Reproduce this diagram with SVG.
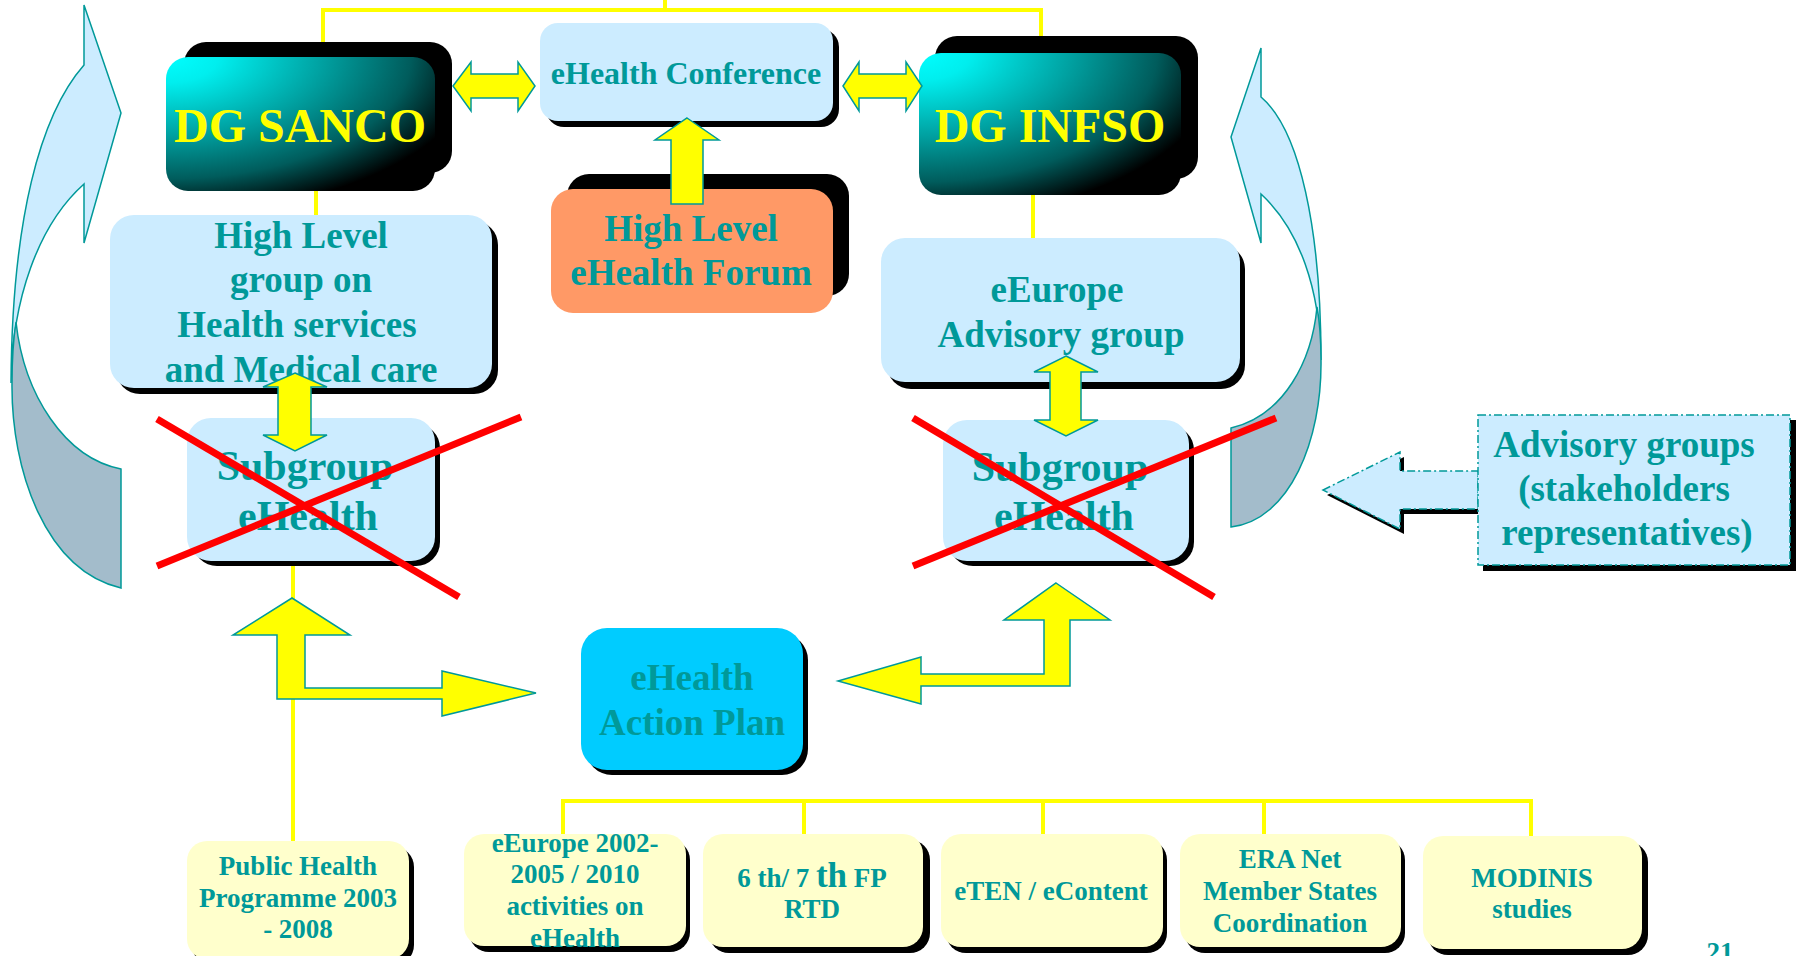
<svg xmlns="http://www.w3.org/2000/svg" width="1796" height="956" viewBox="0 0 1796 956">
<defs>
<radialGradient id="dg" cx="0" cy="0" r="1.3" fx="0" fy="0">
<stop offset="0" stop-color="#00FFFF"/>
<stop offset="0.15" stop-color="#00EEEE"/>
<stop offset="0.45" stop-color="#00A0A0"/>
<stop offset="0.7" stop-color="#005C5C"/>
<stop offset="0.9" stop-color="#000000"/>
</radialGradient>
<style>
.t{font-family:"Liberation Serif","Times New Roman",serif;font-weight:bold;fill:#009999;text-anchor:middle}
.dgt{font-family:"Liberation Serif","Times New Roman",serif;font-weight:bold;fill:#FFFF00;text-anchor:middle;font-size:48px}
.f37{font-size:37px}
.f27{font-size:27px}
.sh{fill:#000}
.lb{fill:#CCECFF}
.ly{fill:#FFFFCC}
.ya{fill:#FFFF00;stroke:#009999;stroke-width:1.5}
.yl{fill:none;stroke:#FFFF00;stroke-width:4}
.rx{stroke:#FF0000;stroke-width:7;fill:none}
.cl{fill:#CCECFF;stroke:#009999;stroke-width:1.5}
.cd{fill:#A3BCCB;stroke:#009999;stroke-width:1.5}
.dash{stroke:#009999;stroke-width:1.5;stroke-dasharray:8 3 2 3}
</style>
</defs>
<rect width="1796" height="956" fill="#FFFFFF"/>

<g id="connectors">
<polyline class="yl" points="323,48 323,10 1041,10 1041,40"/>
<line class="yl" x1="665" y1="10" x2="665" y2="0"/>
<line class="yl" x1="316" y1="185" x2="316" y2="218"/>
<line class="yl" x1="1033" y1="190" x2="1033" y2="240"/>
<line class="yl" x1="293" y1="560" x2="293" y2="843"/>
<polyline class="yl" points="563,836 563,801 1531,801 1531,838"/>
<line class="yl" x1="804" y1="801" x2="804" y2="836"/>
<line class="yl" x1="1043" y1="801" x2="1043" y2="836"/>
<line class="yl" x1="1264" y1="801" x2="1264" y2="836"/>
</g>

<g id="curved-left">
<path class="cl" d="M84,65 C40,115 12,220 11,383 C12,300 38,225 84,184 L84,243 L121,113 L84,5 Z"/>
<path class="cd" d="M16,322 C24,395 65,458 121,469 L121,588 C45,570 11,470 12,383 C12,360 14,335 16,322 Z"/>
</g>
<g id="curved-right">
<path class="cl" d="M1261,97 C1300,130 1321,230 1321,360 C1320,290 1300,230 1261,194 L1261,243 L1231,137 L1261,48 Z"/>
<path class="cd" d="M1317,307 C1312,360 1285,415 1231,428 L1231,527 C1290,520 1322,440 1321,360 C1321,335 1319,318 1317,307 Z"/>
</g>

<g id="dg-sanco">
<rect class="sh" x="184" y="42" width="268" height="131" rx="22"/>
<rect x="166" y="57" width="269" height="134" rx="22" fill="url(#dg)"/>
<text class="dgt" x="300" y="142">DG SANCO</text>
</g>

<g id="ehealth-conference">
<rect class="sh" x="546" y="29" width="293" height="98" rx="18"/>
<rect class="lb" x="540" y="23" width="293" height="98" rx="18"/>
<text class="t" x="686" y="84" font-size="32">eHealth Conference</text>
</g>

<g id="dg-infso">
<rect class="sh" x="935" y="36" width="263" height="143" rx="22"/>
<rect x="919" y="53" width="262" height="142" rx="22" fill="url(#dg)"/>
<text class="dgt" x="1050" y="142">DG INFSO</text>
</g>

<g id="high-level-group">
<rect class="sh" x="116" y="221" width="382" height="173" rx="24"/>
<rect class="lb" x="110" y="215" width="382" height="173" rx="24"/>
<text class="t f37" x="301" y="248">High Level</text>
<text class="t f37" x="301" y="292">group on</text>
<text class="t f37" x="297" y="337">Health services</text>
<text class="t f37" x="301" y="382">and Medical care</text>
</g>

<g id="ehealth-forum">
<rect class="sh" x="567" y="174" width="282" height="122" rx="22"/>
<rect x="551" y="189" width="282" height="124" rx="22" fill="#FF9966"/>
<text class="t f37" x="691" y="241">High Level</text>
<text class="t f37" x="691" y="285">eHealth Forum</text>
</g>

<g id="eeurope-advisory">
<rect class="sh" x="887" y="245" width="358" height="144" rx="24"/>
<rect class="lb" x="881" y="238" width="359" height="144" rx="24"/>
<text class="t f37" x="1057" y="302">eEurope</text>
<text class="t f37" x="1061" y="347">Advisory group</text>
</g>

<g id="subgroup-left">
<rect class="sh" x="193" y="424" width="247" height="142" rx="24"/>
<rect class="lb" x="187" y="418" width="248" height="143" rx="24"/>
<text class="t" x="305" y="480" font-size="42">Subgroup</text>
<text class="t" x="308" y="530" font-size="42">eHealth</text>
</g>

<g id="subgroup-right">
<rect class="sh" x="949" y="426" width="245" height="140" rx="24"/>
<rect class="lb" x="943" y="420" width="246" height="141" rx="24"/>
<text class="t" x="1060" y="481" font-size="42">Subgroup</text>
<text class="t" x="1064" y="530" font-size="42">eHealth</text>
</g>

<g id="action-plan">
<rect class="sh" x="586" y="634" width="222" height="141" rx="26"/>
<rect x="581" y="628" width="222" height="142" rx="26" fill="#00CCFF"/>
<text class="t f37" x="692" y="690">eHealth</text>
<text class="t f37" x="692" y="735">Action Plan</text>
</g>

<g id="advisory-groups">
<polygon class="sh" points="1327,495 1404,457 1404,476 1482,476 1482,514 1404,514 1404,534"/>
<polygon class="lb dash" points="1323,490 1400,452 1400,471 1478,471 1478,509 1400,509 1400,529"/>
<rect class="sh" x="1483" y="420" width="313" height="151"/>
<rect class="lb dash" x="1478" y="415" width="312" height="150"/>
<text class="t f37" x="1624" y="457">Advisory groups</text>
<text class="t f37" x="1624" y="501">(stakeholders</text>
<text class="t f37" x="1627" y="545">representatives)</text>
</g>

<g id="public-health">
<rect class="sh" x="192" y="847" width="222" height="118" rx="20"/>
<rect class="ly" x="187" y="841" width="222" height="118" rx="20"/>
<text class="t f27" x="298" y="875">Public Health</text>
<text class="t f27" x="298" y="907">Programme 2003</text>
<text class="t f27" x="298" y="938">- 2008</text>
</g>

<g id="eeurope-2002">
<rect class="sh" x="469" y="840" width="221" height="112" rx="20"/>
<rect class="ly" x="464" y="834" width="222" height="112" rx="20"/>
<text class="t f27" x="575" y="852">eEurope 2002-</text>
<text class="t f27" x="575" y="883">2005 / 2010</text>
<text class="t f27" x="575" y="915">activities on</text>
<text class="t f27" x="575" y="947">eHealth</text>
</g>

<g id="fp-rtd">
<rect class="sh" x="709" y="840" width="221" height="113" rx="20"/>
<rect class="ly" x="703" y="834" width="220" height="113" rx="20"/>
<text class="t f27" x="812" y="887">6 th/ 7 <tspan font-size="35">th</tspan> FP</text>
<text class="t f27" x="812" y="918">RTD</text>
</g>

<g id="eten">
<rect class="sh" x="946" y="840" width="221" height="113" rx="20"/>
<rect class="ly" x="941" y="834" width="222" height="113" rx="20"/>
<text class="t f27" x="1051" y="900">eTEN / eContent</text>
</g>

<g id="era-net">
<rect class="sh" x="1185" y="840" width="220" height="113" rx="20"/>
<rect class="ly" x="1180" y="834" width="221" height="113" rx="20"/>
<text class="t f27" x="1290" y="868">ERA Net</text>
<text class="t f27" x="1290" y="900">Member States</text>
<text class="t f27" x="1290" y="932">Coordination</text>
</g>

<g id="modinis">
<rect class="sh" x="1428" y="842" width="220" height="113" rx="20"/>
<rect class="ly" x="1423" y="836" width="219" height="113" rx="20"/>
<text class="t f27" x="1532" y="887">MODINIS</text>
<text class="t f27" x="1532" y="918">studies</text>
</g>

<g id="page-number">
<text class="t f27" x="1720" y="961">21</text>
</g>

<g id="block-arrows">
<polygon class="ya" points="453,86 471,62 471,74 518,74 518,62 535,86 518,111 518,98 471,98 471,111"/>
<polygon class="ya" points="843,86 859,62 859,74 906,74 906,62 922,86 906,111 906,98 859,98 859,111"/>
<polygon class="ya" points="687,118 719,140 703,140 703,204 671,204 671,140 655,140"/>
<polygon class="ya" points="295,373 327,387 311,387 311,435 327,435 295,451 263,435 278,435 278,387 263,387"/>
<polygon class="ya" points="1066,356 1098,372 1081,372 1081,420 1098,420 1066,436 1034,420 1050,420 1050,372 1034,372"/>
<polygon class="ya" points="292,598 350,635 305,635 305,688 442,688 442,671 536,693 442,716 442,699 277,699 277,635 233,635"/>
<polygon class="ya" points="1056,583 1110,620 1070,620 1070,686 921,686 921,704 838,681 921,657 921,674 1044,674 1044,620 1004,620"/>
</g>

<g id="strikes">
<line class="rx" x1="157" y1="419" x2="459" y2="597"/>
<line class="rx" x1="157" y1="566" x2="521" y2="417"/>
<line class="rx" x1="913" y1="418" x2="1214" y2="597"/>
<line class="rx" x1="913" y1="566" x2="1276" y2="418"/>
</g>
</svg>
